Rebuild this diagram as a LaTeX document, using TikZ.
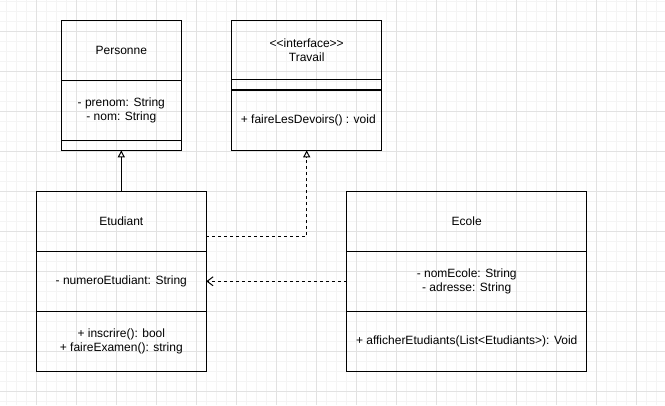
\documentclass[tikz,border=0pt]{standalone}
\usepackage{fontspec}
\setmainfont{Liberation Sans}
\usetikzlibrary{positioning,arrows.meta}
\definecolor{gridmajor}{HTML}{E2E2E2}
\definecolor{gridminor}{HTML}{F4F4F4}
\begin{document}
\begin{tikzpicture}[x=1pt,y=-1pt,
        font=\fontsize{12}{14}\selectfont,
        part/.style={draw,line width=1pt,inner sep=0pt,outer sep=0pt,align=center},
        inherit/.style={line width=1pt,-{Triangle[open,length=7pt,width=7pt]}},
        realize/.style={inherit,dash pattern=on 3pt off 3pt},
        depend/.style={line width=1pt,dash pattern=on 3pt off 3pt,-{Straight Barb[length=6pt,width=9pt]}}]
    \useasboundingbox (0,0) rectangle (665,405);
    % Background grid
    \foreach \k in {0,...,65} \draw[gridminor,line width=0.75pt] (6.3+10*\k,0) -- (6.3+10*\k,405);
    \foreach \k in {0,...,40} \draw[gridminor,line width=0.75pt] (0,1.3+10*\k) -- (665,1.3+10*\k);
    \foreach \k in {0,...,15} \draw[gridmajor,line width=0.75pt] (36.3+40*\k,0) -- (36.3+40*\k,405);
    \foreach \k in {0,...,9} \draw[gridmajor,line width=0.75pt] (0,31.3+40*\k) -- (665,31.3+40*\k);

    % Personne
    \node[part,minimum width=120pt,minimum height=60pt,anchor=north west] (pers) at (61.3,20.3) {Personne};
    \node[part,minimum width=120pt,minimum height=60pt,below=0pt of pers] (pers-attr) {- prenom: String\\- nom: String};
    \node[part,minimum width=120pt,minimum height=10pt,below=0pt of pers-attr] (pers-meth) {};

    % Travail (interface)
    \node[part,minimum width=150pt,minimum height=59pt,anchor=north west] (trav) at (231.7,20.3) {{<}{<}interface{>}{>}\\Travail};
    \node[part,minimum width=150pt,minimum height=11pt,below=0pt of trav] (trav-attr) {};
    \node[part,minimum width=150pt,minimum height=60pt,below=0pt of trav-attr] (trav-meth) {};
    \node[anchor=west,inner sep=0pt] (trav-op) at ([xshift=9pt]trav-meth.west) {+ faireLesDevoirs() : void};
    \draw[line width=2pt] (trav-meth.north west) -- (trav-meth.north east);

    % Etudiant
    \node[part,minimum width=170pt,minimum height=60pt,anchor=north west] (etu) at (36.3,191.3) {Etudiant};
    \node[part,minimum width=170pt,minimum height=60pt,below=0pt of etu] (etu-attr) {- numeroEtudiant: String};
    \node[part,minimum width=170pt,minimum height=60pt,below=0pt of etu-attr] (etu-meth) {+ inscrire(): bool\\+ faireExamen(): string};

    % Ecole
    \node[part,minimum width=240pt,minimum height=60pt,anchor=north west] (eco) at (346.7,191.3) {Ecole};
    \node[part,minimum width=240pt,minimum height=60pt,below=0pt of eco] (eco-attr) {- nomEcole: String\\- adresse: String};
    \node[part,minimum width=240pt,minimum height=60pt,below=0pt of eco-attr] (eco-meth) {+ afficherEtudiants(List<Etudiants>): Void};

    % Relations
    \draw[inherit] (etu.north) -- (pers-meth.south);
    \draw[realize] ([yshift=-15.4pt]etu.east) -| (trav-meth.south);
    \draw[depend] (eco-attr.west) -- (etu-attr.east);
\end{tikzpicture}
\end{document}
